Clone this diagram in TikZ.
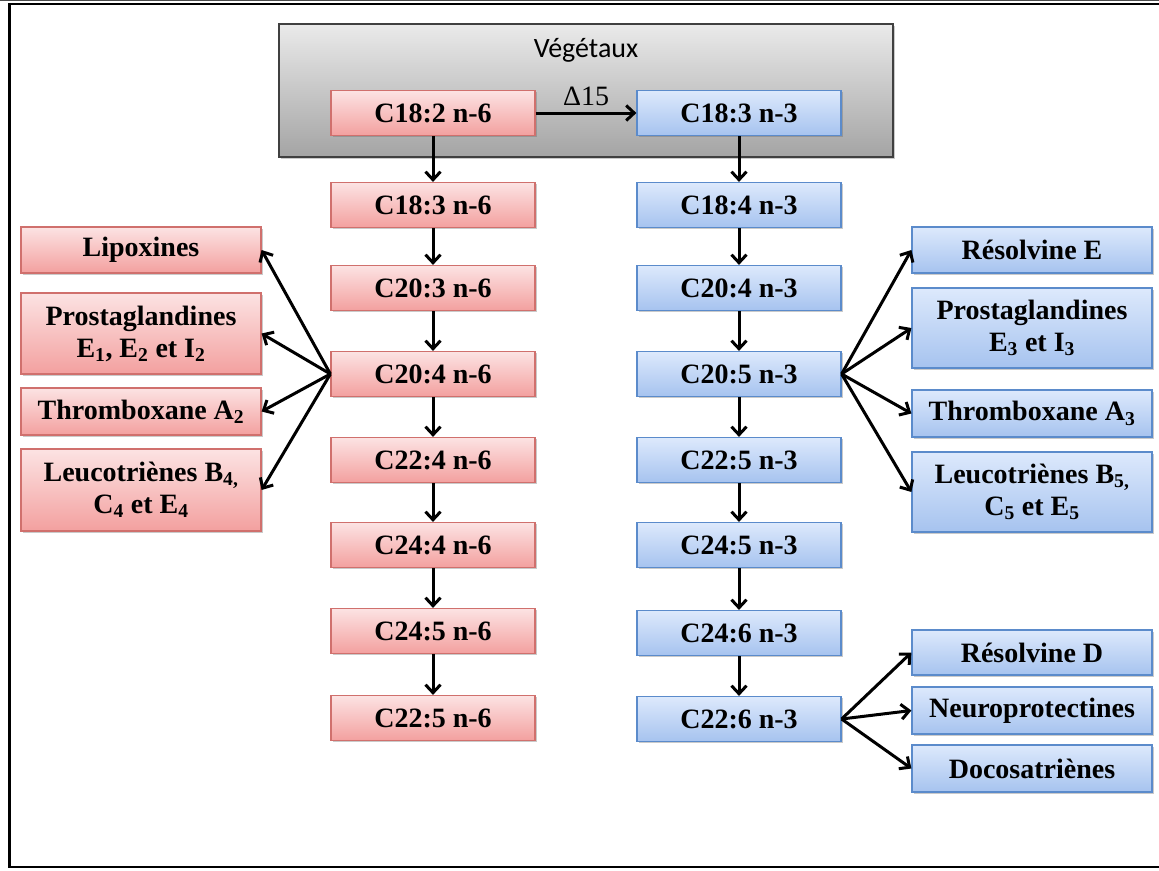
\documentclass[tikz,border=0pt]{standalone}
\usepackage{fontspec}
\setmainfont{Liberation Serif}
\newfontfamily\titlefont{Carlito}
\usetikzlibrary{arrows.meta,shadows}
\definecolor{redtop}{HTML}{FCE3E3}
\definecolor{redbot}{HTML}{F3A09F}
\definecolor{redline}{HTML}{D0706D}
\definecolor{bluetop}{HTML}{DDE9FC}
\definecolor{bluebot}{HTML}{A6C3EF}
\definecolor{blueline}{HTML}{5B8BCB}
\definecolor{graytop}{HTML}{EAEAEA}
\definecolor{graybot}{HTML}{A4A4A4}
\begin{document}
\begin{tikzpicture}[x=1pt,y=-1pt,
 shad/.style={drop shadow={shadow xshift=1.5pt, shadow yshift=-1.5pt, opacity=0.35, fill=black!60}},
 box/.style={rectangle, inner sep=0pt, align=center, font=\fontsize{28}{32}\selectfont\bfseries, line width=1.2pt, shad},
 redbox/.style={box, draw=redline, top color=redtop, bottom color=redbot},
 bluebox/.style={box, draw=blueline, top color=bluetop, bottom color=bluebot},
 colbox/.style={minimum width=204pt, minimum height=45pt},
 sidebox/.style={minimum width=240pt, minimum height=46pt},
 tallbox/.style={minimum width=240pt, minimum height=81pt},
 arr/.style={line width=3pt, -{Straight Barb[length=8pt,width=15pt,line width=3pt]}},
]
\useasboundingbox (0,0) rectangle (1159,870);
% frame
\draw[line width=1.2pt, black!70] (0,0.6) -- (1159,0.6);
\draw[line width=2.2pt] (1165,4) -- (9.5,4) -- (9.5,867) -- (1165,867);
% vegetal box
\node[draw=black!75, line width=1.2pt, top color=graytop, bottom color=graybot, minimum width=614pt, minimum height=133pt, inner sep=0pt, shad] (veg) at (586,90.5) {};
\node[font=\titlefont\fontsize{28}{32}\selectfont] (vegt) at (586,50) {Végétaux};
% n-6 column
\node[redbox,colbox] (a1) at (433,113) {C18:2 n-6};
\node[redbox,colbox] (a2) at (433,205) {C18:3 n-6};
\node[redbox,colbox] (a3) at (433,288) {C20:3 n-6};
\node[redbox,colbox] (a4) at (433,374) {C20:4 n-6};
\node[redbox,colbox] (a5) at (433,460) {C22:4 n-6};
\node[redbox,colbox] (a6) at (433,545) {C24:4 n-6};
\node[redbox,colbox] (a7) at (433,631) {C24:5 n-6};
\node[redbox,colbox] (a8) at (433,718) {C22:5 n-6};
% n-3 column
\node[bluebox,colbox] (b1) at (739,113) {C18:3 n-3};
\node[bluebox,colbox] (b2) at (739,205) {C18:4 n-3};
\node[bluebox,colbox] (b3) at (739,288) {C20:4 n-3};
\node[bluebox,colbox] (b4) at (739,374) {C20:5 n-3};
\node[bluebox,colbox] (b5) at (739,460) {C22:5 n-3};
\node[bluebox,colbox] (b6) at (739,545) {C24:5 n-3};
\node[bluebox,colbox] (b7) at (739,633) {C24:6 n-3};
\node[bluebox,colbox] (b8) at (739,719) {C22:6 n-3};
% left products
\node[redbox,sidebox] (l1) at (141,250) {Lipoxines};
\node[redbox,tallbox] (l2) at (141,333.5) {Prostaglandines\\E\textsubscript{1}, E\textsubscript{2} et I\textsubscript{2}};
\node[redbox,sidebox,minimum height=47pt] (l3) at (141,411.5) {Thromboxane A\textsubscript{2}};
\node[redbox,tallbox,minimum height=82pt] (l4) at (141,490) {Leucotriènes B\textsubscript{4,}\\C\textsubscript{4} et E\textsubscript{4}};
% right products
\node[bluebox,sidebox] (r1) at (1032,250) {Résolvine E};
\node[bluebox,tallbox,minimum height=80pt] (r2) at (1032,328) {Prostaglandines\\E\textsubscript{3} et I\textsubscript{3}};
\node[bluebox,sidebox,minimum height=47pt] (r3) at (1032,413.5) {Thromboxane A\textsubscript{3}};
\node[bluebox,tallbox,minimum height=80pt] (r4) at (1032,492) {Leucotriènes B\textsubscript{5,}\\C\textsubscript{5} et E\textsubscript{5}};
\node[bluebox,sidebox,minimum height=45pt] (r5) at (1032,652.5) {Résolvine D};
\node[bluebox,sidebox,minimum height=47pt] (r6) at (1032,710.5) {Neuroprotectines};
\node[bluebox,sidebox,minimum height=47pt] (r7) at (1032,768.5) {Docosatriènes};
% delta 15
\node[font=\fontsize{28}{32}\selectfont] (d15) at (586,96) {Δ15};
\draw[arr] (a1) -- (b1);
% vertical arrows
\foreach \i/\j in {1/2,2/3,3/4,4/5,5/6,6/7,7/8}{
  \draw[arr] (a\i) -- (a\j);
  \draw[arr] (b\i) -- (b\j);
}
% fans
\foreach \k in {1,2,3,4}{
  \draw[arr] (a4.west) -- (l\k.east);
  \draw[arr] (b4.east) -- (r\k.west);
}
\foreach \k in {5,6,7}{
  \draw[arr] (b8.east) -- (r\k.west);
}
\end{tikzpicture}
\end{document}
